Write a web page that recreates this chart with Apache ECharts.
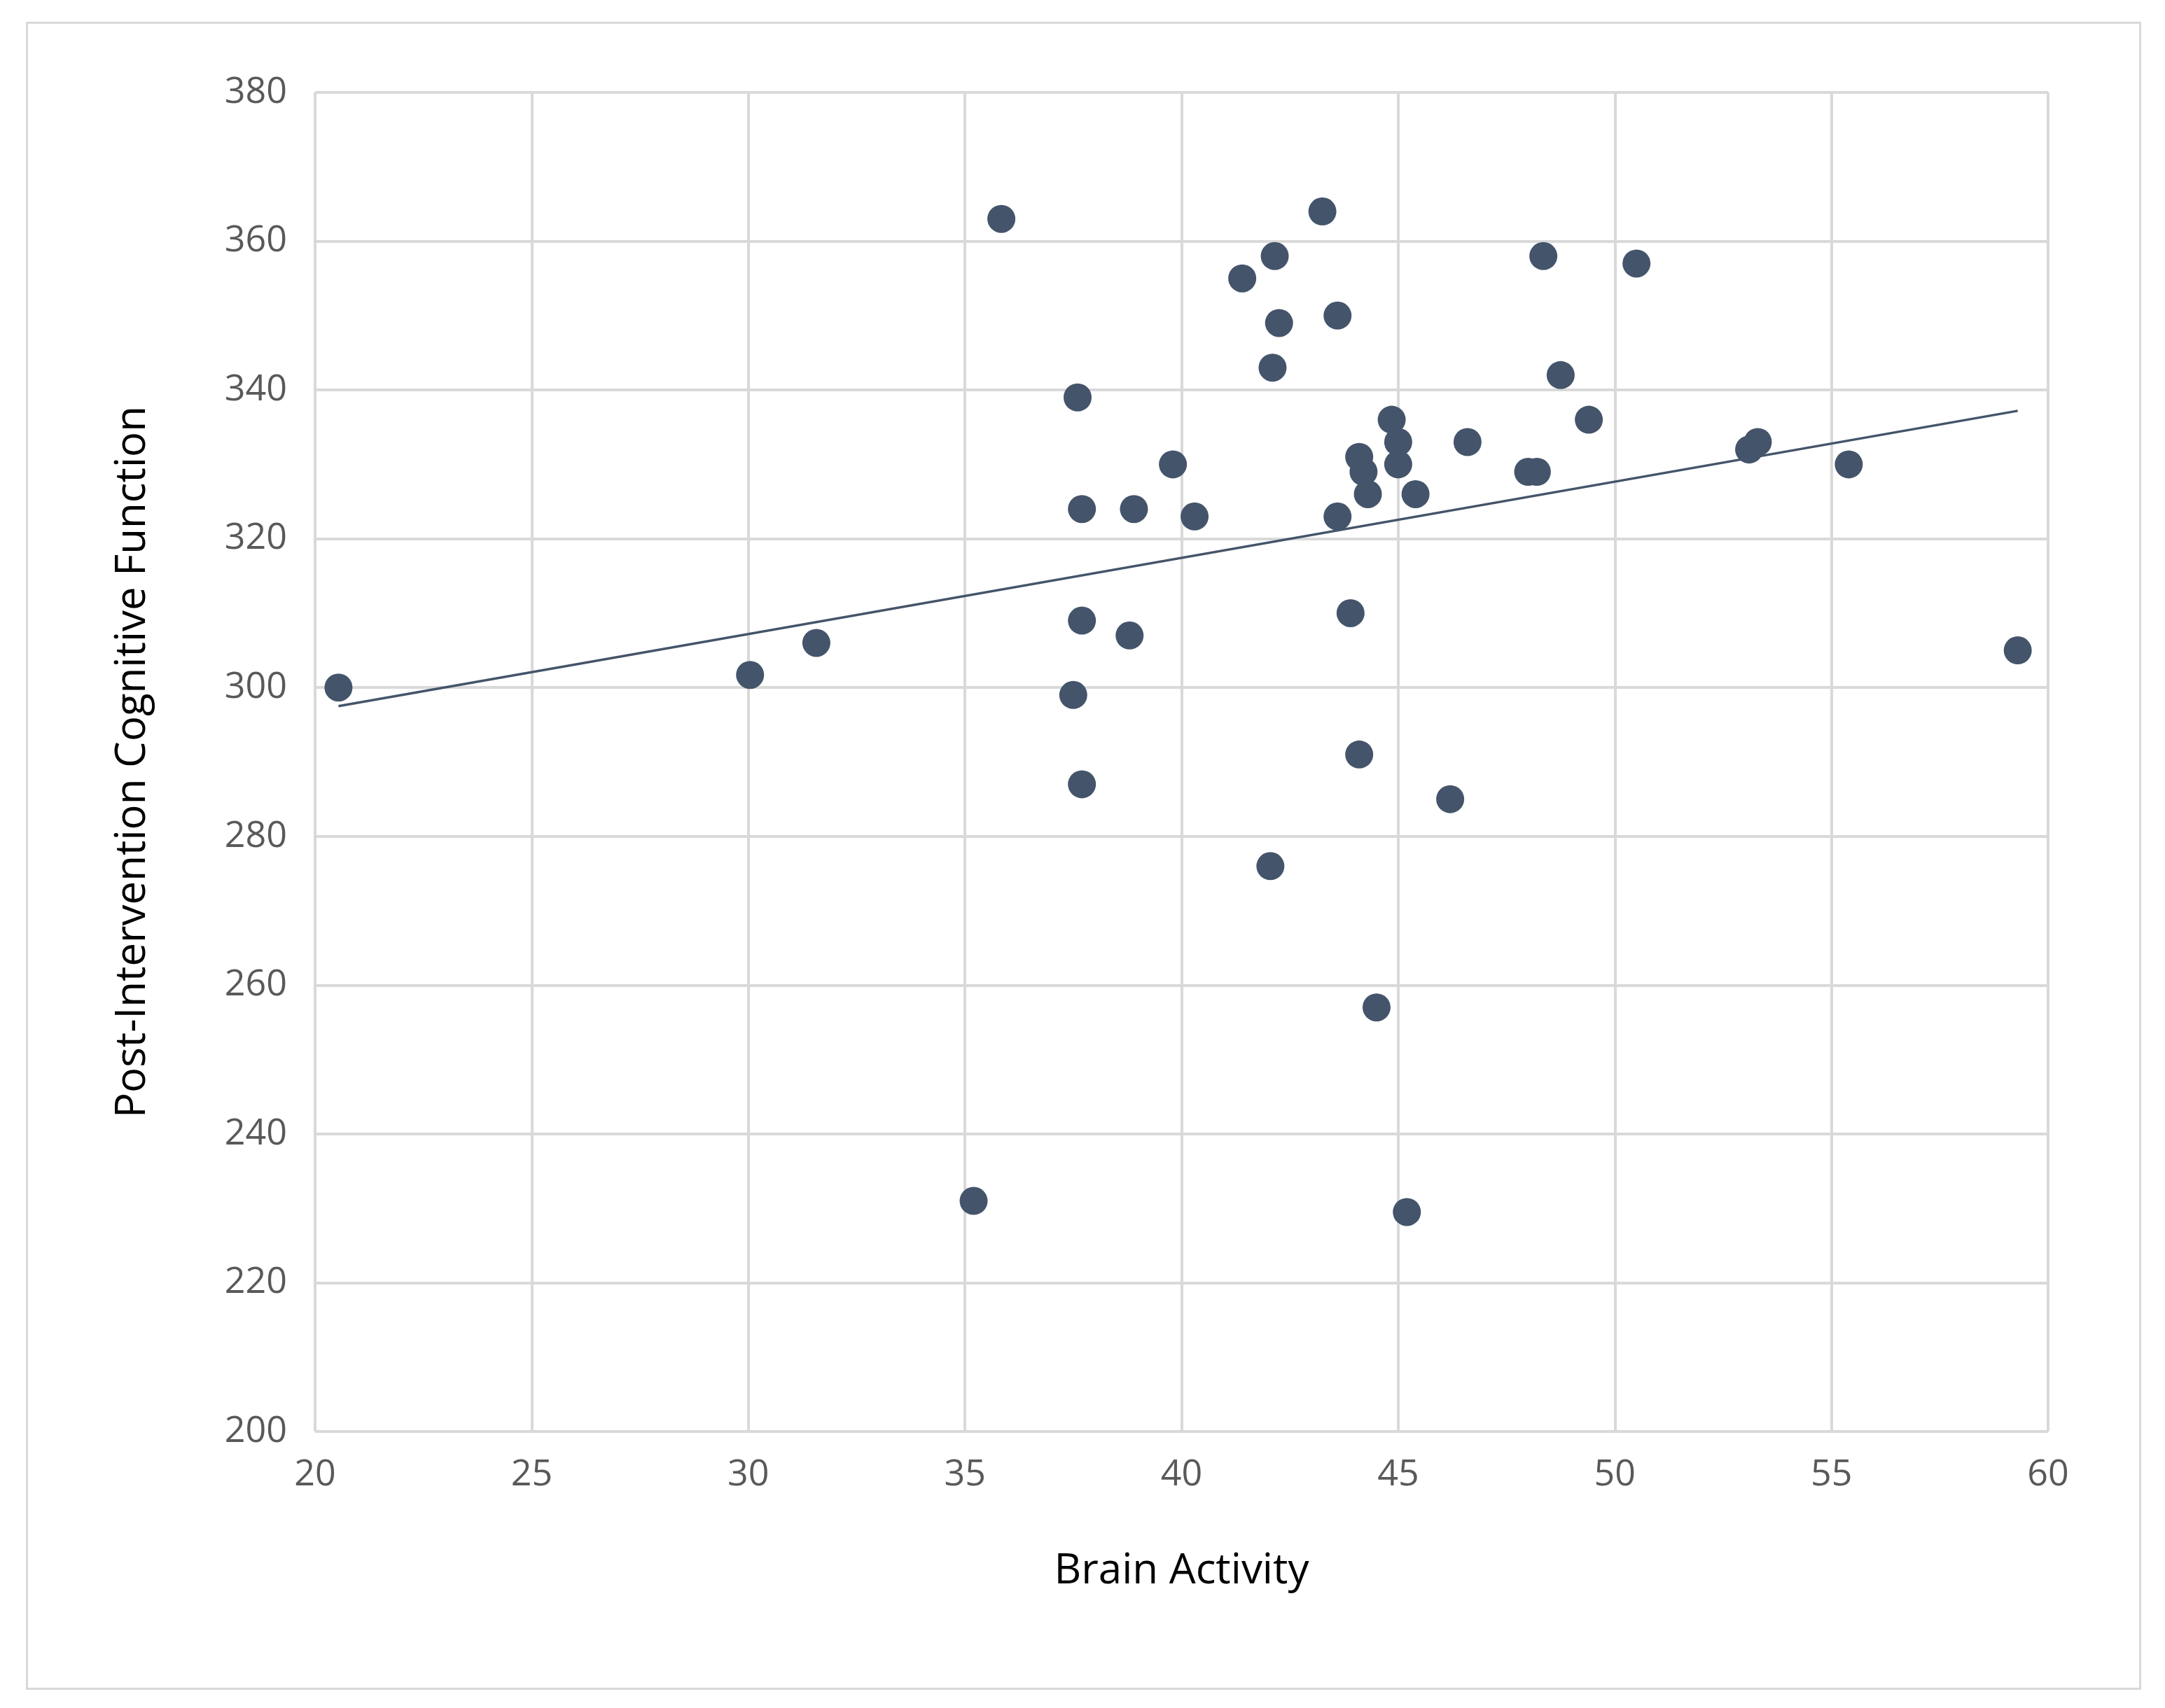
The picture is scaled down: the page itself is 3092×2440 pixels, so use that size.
<!DOCTYPE html>
<html><head><meta charset="utf-8">
<script src="https://cdn.jsdelivr.net/npm/echarts@6/dist/echarts.min.js"></script>
<style>html,body{margin:0;padding:0;background:#fff}#c{width:3092px;height:2440px}</style>
</head><body><div id="c"></div>
<script>
const brainActivity = [20.54,30.04,31.57,35.84,35.2,37.5,37.6,37.7,37.7,37.7,38.8,38.9,39.8,40.3,41.4,42.05,42.1,42.15,42.25,43.25,43.6,43.6,43.9,44.1,44.1,44.2,44.3,44.5,44.85,45.0,45.0,45.2,45.4,46.2,46.6,48.0,48.2,48.35,48.75,49.4,50.5,53.1,53.3,55.4,59.3];
const cognitive = [300,301.7,306,363,231,299,339,324,309,287,307,324,330,323,355,276,343,358,349,364,350,323,310,291,331,329,326,257,336,333,330,229.5,326,285,333,329,329,358,342,336,357,332,333,330,305];
const trendX = [20.54,59.3];
const trendY = [297.5,337.2];
const pts = brainActivity.map((x,i)=>[x,cognitive[i]]);
const chart = echarts.init(document.getElementById('c'));
const font = '"Open Sans","Liberation Sans",sans-serif';
chart.setOption({
  animation:false,
  backgroundColor:'#fff',
  graphic:[{type:'rect',left:36,top:30,shape:{width:3018,height:2380},style:{fill:'none',stroke:'#d9d9d9',lineWidth:3}}],
  grid:{left:450,right:167,top:132,bottom:395},
  xAxis:{type:'value',min:20,max:60,interval:5,name:'Brain Activity',nameLocation:'middle',nameGap:170,
    nameTextStyle:{fontFamily:font,fontSize:60,color:'#000'},
    axisLabel:{fontFamily:font,fontSize:52,color:'#595959',margin:36},
    axisLine:{show:false},axisTick:{show:false},
    splitLine:{lineStyle:{color:'#d9d9d9',width:4}}},
  yAxis:{type:'value',min:200,max:380,interval:20,name:'Post-Intervention Cognitive Function',nameLocation:'middle',nameGap:230,
    nameTextStyle:{fontFamily:font,fontSize:60,color:'#000'},
    axisLabel:{fontFamily:font,fontSize:52,color:'#595959',margin:40},
    axisLine:{show:false},axisTick:{show:false},
    splitLine:{lineStyle:{color:'#d9d9d9',width:4}}},
  series:[
    {type:'scatter',data:pts,symbolSize:40,itemStyle:{color:'#44546a',opacity:1},z:3},
    {type:'line',data:trendX.map((x,i)=>[x,trendY[i]]),showSymbol:false,lineStyle:{color:'#44546a',width:3.5},z:2}
  ]
});
</script></body></html>
